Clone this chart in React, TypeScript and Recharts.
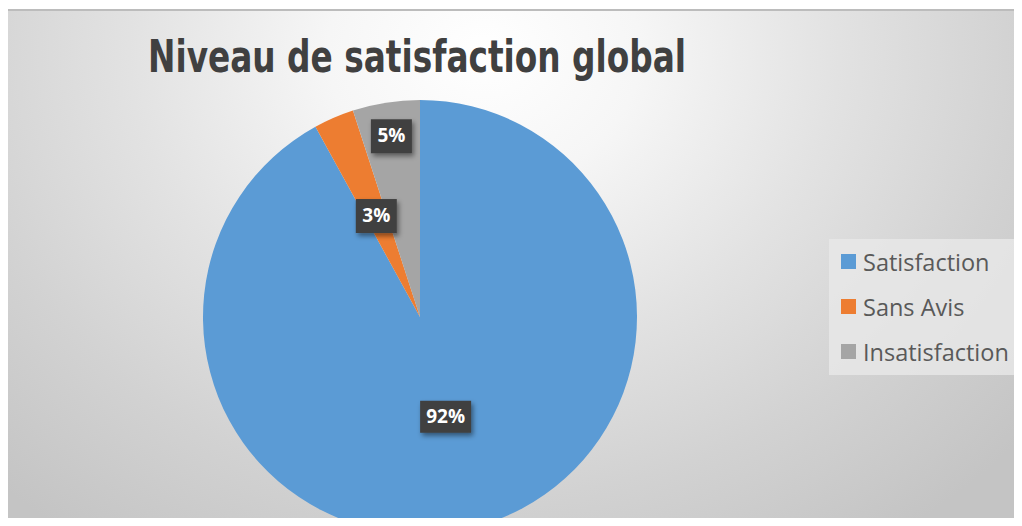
import { PieChart, Pie, Cell, Legend } from "recharts";

const categories = ["Satisfaction", "Sans Avis", "Insatisfaction"];
const values = [92, 3, 5];
const colors = ["#5B9BD5", "#ED7D31", "#A5A5A5"];
// distance of each data label from the centre, in px
const labelRadius = [103, 110, 183];

const data = categories.map((name, i) => ({ name, value: values[i] }));

const RAD = Math.PI / 180;

const renderLabel = (props: any) => {
    const { cx, cy, midAngle, index, value } = props;
    const r = labelRadius[index];
    const x = cx + r * Math.cos(-midAngle * RAD);
    const y = cy + r * Math.sin(-midAngle * RAD);
    const text = value + "%";
    const w = text.length > 2 ? 51 : 41;
    const h = text.length > 2 ? 32 : 34;
    return (
        <g>
            <rect x={x - w / 2} y={y - h / 2} width={w} height={h} fill="#404040" filter="url(#lblShadow)" />
            <text
                x={x}
                y={y + 1}
                textAnchor="middle"
                dominantBaseline="middle"
                fill="#ffffff"
                fontFamily="'Open Sans', sans-serif"
                fontWeight={700}
                fontSize={19}
            >
                {text}
            </text>
        </g>
    );
};

const renderLegend = () => (
    <div
        style={{
            width: 190,
            height: 136,
            background: "rgba(232,232,232,0.8)",
            boxSizing: "border-box",
        }}
    >
        {categories.map((c, i) => (
            <div key={c} style={{ display: "flex", alignItems: "center", height: 45, paddingLeft: 12 }}>
                <span style={{ width: 15, height: 15, background: colors[i], display: "inline-block", marginRight: 7 }} />
                <span
                    style={{
                        fontFamily: "'Open Sans', sans-serif",
                        fontSize: 23.5,
                        color: "#595959",
                        lineHeight: "26px",
                    }}
                >
                    {c}
                </span>
            </div>
        ))}
    </div>
);

export default function App() {
    return (
        <div style={{ position: "relative", width: 1022, height: 526, margin: -8, background: "#ffffff", overflow: "hidden" }}>
            <div
                style={{
                    position: "absolute",
                    left: 7,
                    top: 9,
                    width: 1015,
                    height: 517,
                    boxSizing: "border-box",
                    borderTop: "2px solid #bcbcbc",
                    background:
                        "radial-gradient(ellipse 70% 115% at 47% 8%, #ffffff 0%, #f6f6f6 22%, #e2e2e2 50%, #d2d2d2 75%, #c4c4c4 100%)",
                }}
            />
            <svg width={1022} height={526} style={{ position: "absolute", left: 0, top: 0 }}>
                <defs>
                    <filter id="lblShadow" x="-30%" y="-30%" width="160%" height="160%">
                        <feDropShadow dx={2} dy={3} stdDeviation={2.5} floodColor="#000000" floodOpacity={0.45} />
                    </filter>
                    <filter id="pieShadow" x="-10%" y="-10%" width="120%" height="120%">
                        <feDropShadow dx={0} dy={0} stdDeviation={6} floodColor="#000000" floodOpacity={0.18} />
                    </filter>
                </defs>
                <text
                    x={148}
                    y={72}
                    fill="#404040"
                    fontFamily="'Liberation Sans Narrow', 'DejaVu Sans Condensed', sans-serif"
                    fontWeight={700}
                    fontSize={44}
                    textLength={538}
                    lengthAdjust="spacingAndGlyphs"
                >
                    Niveau de satisfaction global
                </text>
            </svg>
            <div style={{ position: "absolute", left: 0, top: 0 }}>
                <PieChart width={1022} height={526} margin={{ top: 0, right: 0, bottom: 0, left: 0 }}>
                    <Pie
                        data={data}
                        dataKey="value"
                        nameKey="name"
                        cx={420}
                        cy={317}
                        outerRadius={217}
                        startAngle={90}
                        endAngle={-270}
                        stroke="none"
                        label={renderLabel}
                        labelLine={false}
                        isAnimationActive={false}
                    >
                        {data.map((d, i) => (
                            <Cell key={d.name} fill={colors[i]} />
                        ))}
                    </Pie>
                    <Legend
                        layout="vertical"
                        align="right"
                        verticalAlign="top"
                        content={renderLegend}
                        wrapperStyle={{ left: 829, top: 239, width: 190 }}
                    />
                </PieChart>
            </div>
        </div>
    );
}
